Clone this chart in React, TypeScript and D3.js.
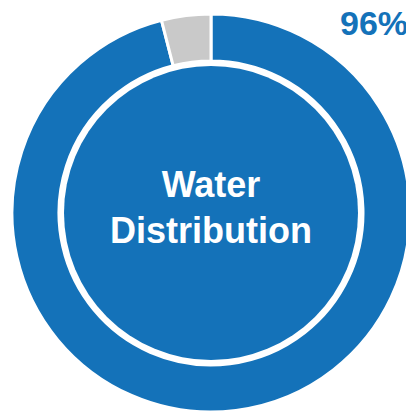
import { useEffect, useRef } from "react";
import * as d3 from "d3";

const categories = ["Distributed", "Remaining"];
const values = [96, 4];
const centerLines = ["Water", "Distribution"];
const valueLabel = "96%";

function App() {
  const ref = useRef<SVGSVGElement>(null);

  useEffect(() => {
    const width = 406;
    const height = 411;
    const cx = 211;
    const cy = 213;
    const outerR = 199;
    const ringInner = 152;
    const innerR = 147;
    const blue = "#1472B9";

    const svg = d3.select(ref.current);
    svg.selectAll("*").remove();
    svg.attr("width", width).attr("height", height);

    const g = svg.append("g").attr("transform", `translate(${cx}, ${cy})`);

    const pie = d3.pie<number>().sort(null).value((d) => d);
    const arc = d3
      .arc<d3.PieArcDatum<number>>()
      .innerRadius(ringInner)
      .outerRadius(outerR);

    const color = d3
      .scaleOrdinal<string, string>()
      .domain(categories)
      .range([blue, "#C9C9C9"]);

    g.selectAll("path.slice")
      .data(pie(values))
      .enter()
      .append("path")
      .attr("class", "slice")
      .attr("d", arc)
      .attr("fill", (d, i) => color(categories[i]))
      .attr("stroke", "#fff")
      .attr("stroke-width", 3);

    // inner disc
    g.append("circle").attr("r", innerR).attr("fill", blue);

    g.selectAll("text.center")
      .data(centerLines)
      .enter()
      .append("text")
      .attr("class", "center")
      .attr("x", 0)
      .attr("y", (d, i) => -16 + i * 46)
      .attr("text-anchor", "middle")
      .attr("fill", "#fff")
      .style("font-family", "Liberation Sans, Arial, sans-serif")
      .style("font-weight", "bold")
      .style("font-size", "36px")
      .text((d) => d);

    svg
      .append("text")
      .attr("x", 340)
      .attr("y", 35)
      .attr("fill", blue)
      .style("font-family", "Liberation Sans, Arial, sans-serif")
      .style("font-weight", "bold")
      .style("font-size", "34px")
      .text(valueLabel);
  }, []);

  return (
    <div style={{ position: "absolute", left: 0, top: 0 }}>
      <svg ref={ref} style={{ display: "block" }}></svg>
    </div>
  );
}

export default App;
